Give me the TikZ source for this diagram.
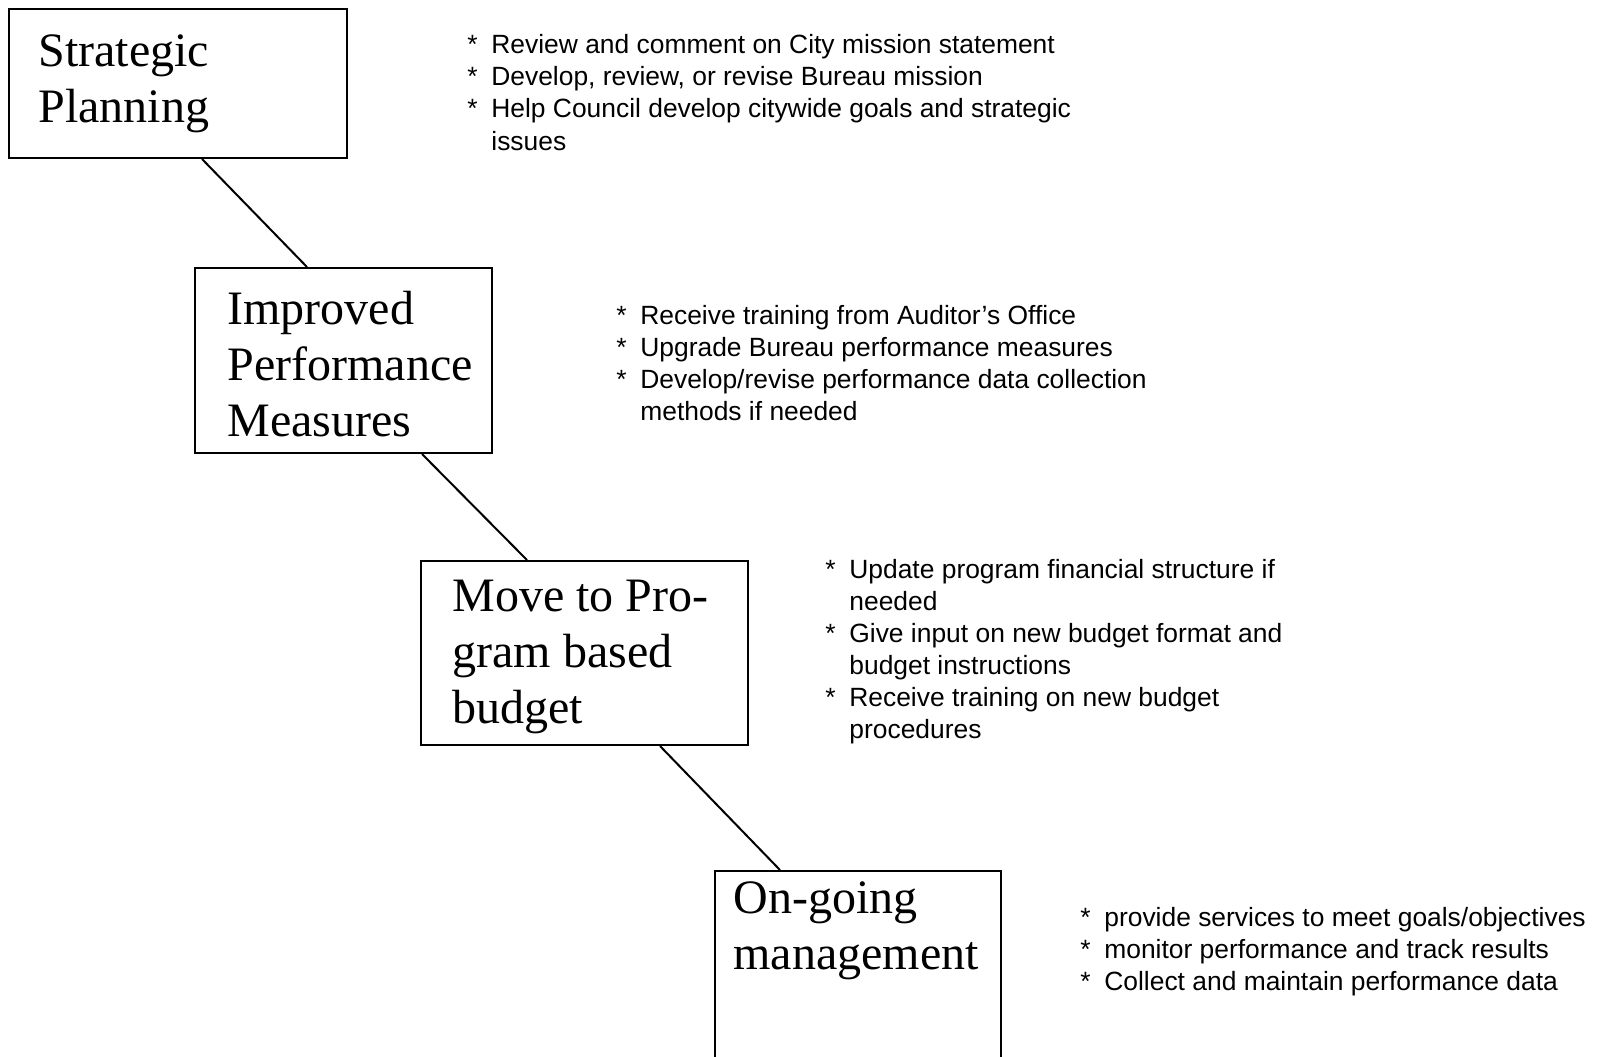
\documentclass[tikz,border=0pt]{standalone}
\usepackage{fontspec}
\setmainfont{Liberation Serif}
\setsansfont{Liberation Sans}
\newcommand{\itemstar}{\makebox[12pt][l]{*}}
\newcommand{\itemgap}{\makebox[12pt]{}}

\begin{document}
\begin{tikzpicture}[
    x=0.5pt, y=-0.5pt,
    stage/.style={
      draw,
      line width=1pt,
      inner sep=0pt
    },
    stagetext/.style={
      anchor=base west,
      inner sep=0pt,
      align=left,
      font=\fontsize{24}{28}\selectfont
    },
    notes/.style={
      anchor=base west,
      inner sep=0pt,
      align=left,
      font=\sffamily\fontsize{13.2}{16.05}\selectfont
    },
    link/.style={line width=1pt}
  ]
    \useasboundingbox (0,0) rectangle (1606,1056);
    \clip (0,0) rectangle (1606,1056);

    % the four stages
    \node[stage, minimum width=169pt, minimum height=74.5pt] (plan) at (178,83.5) {};
    \node[stage, minimum width=148.5pt, minimum height=92.5pt] (perf) at (343.5,360.5) {};
    \node[stage, minimum width=163.5pt, minimum height=92pt] (budget) at (584.5,653) {};
    \node[stage, minimum width=143pt, minimum height=104.5pt] (manage) at (858,975.5) {};

    % base of a text block = its last line
    \node[stagetext] (plantxt) at ([shift={(30,114.5)}]plan.north west) {Strategic\\Planning};
    \node[stagetext] (perftxt) at ([shift={(33,169)}]perf.north west) {Improved\\Performance\\Measures};
    \node[stagetext] (budgettxt) at ([shift={(32,163)}]budget.north west) {Move to Pro-\\gram based\\budget};
    \node[stagetext] (managetxt) at ([shift={(19,99)}]manage.north west) {On-going\\management};

    % tasks beside each stage
    \node[notes] (plannotes) at ([shift={(119,142)}]plan.north east)
      {\itemstar Review and comment on City mission statement\\
       \itemstar Develop, review, or revise Bureau mission\\
       \itemstar Help Council develop citywide goals and strategic\\
       \itemgap issues};
    \node[notes] (perfnotes) at ([shift={(123,153.5)}]perf.north east)
      {\itemstar Receive training from Auditor’s Office\\
       \itemstar Upgrade Bureau performance measures\\
       \itemstar Develop/revise performance data collection\\
       \itemgap methods if needed};
    \node[notes] (budgetnotes) at ([shift={(76,178.5)}]budget.north east)
      {\itemstar Update program financial structure if\\
       \itemgap needed\\
       \itemstar Give input on new budget format and\\
       \itemgap budget instructions\\
       \itemstar Receive training on new budget\\
       \itemgap procedures};
    \node[notes] (managenotes) at ([shift={(78,120.5)}]manage.north east)
      {\itemstar provide services to meet goals/objectives\\
       \itemstar monitor performance and track results\\
       \itemstar Collect and maintain performance data};

    \draw[link] ([shift={(24,0)}]plan.south) -- ([shift={(-36.5,0)}]perf.north);
    \draw[link] ([shift={(78.5,0)}]perf.south) -- ([shift={(-57.5,0)}]budget.north);
    \draw[link] ([shift={(75.5,0)}]budget.south) -- ([shift={(-78,0)}]manage.north);
  \end{tikzpicture}
\end{document}
